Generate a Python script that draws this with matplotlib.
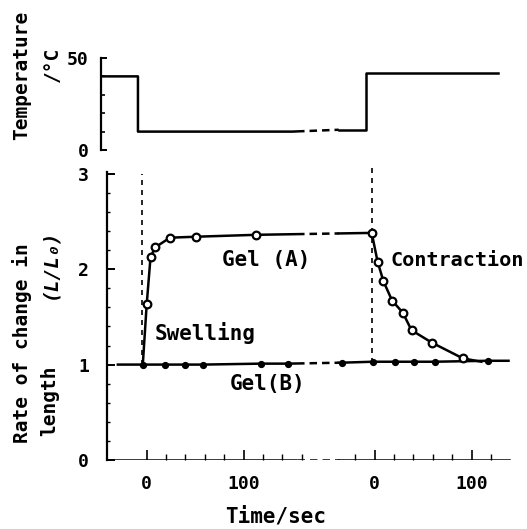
import numpy as np
import matplotlib
matplotlib.use("Agg")
import matplotlib.pyplot as plt

# ---------------- data ----------------
OFFSET = 235          # combined-axis position of t = 0 in the second (right) time window
BREAK = (155, 198)    # combined-axis interval shown as a dashed break

# temperature programme (left window times, right window times)
temp_t_left = [-47, -9, -9, 150]
temp_v_left = [40, 40, 10, 10]
temp_t_right = [-40, -9, -9, 127]
temp_v_right = [11, 11, 42, 42]

# Gel (A) open circles
gelA_t_left = [0, 4, 9, 24, 51, 113]
gelA_v_left = [1.63, 2.13, 2.23, 2.33, 2.34, 2.36]
gelA_start = (-4, 1.0)
gelA_t_right = [-3, 3, 9, 18, 29, 38, 59, 91]
gelA_v_right = [2.38, 2.08, 1.875, 1.67, 1.545, 1.36, 1.23, 1.065]
gelA_end = (110, 1.03)

# Gel (B) filled circles
gelB_t_left = [-4, 19, 39, 58, 118, 146]
gelB_v_left = [1.0, 1.0, 1.0, 1.0, 1.01, 1.01]
gelB_t_right = [-34, -2, 21, 41, 62, 117]
gelB_v_right = [1.02, 1.03, 1.03, 1.03, 1.03, 1.04]
gelB_line_start = -31
gelB_line_end_right = 138

xtick_major = [0, 100, OFFSET + 0, OFFSET + 100]
xtick_labels = ["0", "100", "0", "100"]

FONT = "DejaVu Sans Mono"
W, H = 527, 529
fig = plt.figure(figsize=(W / 100, H / 100), dpi=100)

XL = (-50, 380)
ax = fig.add_axes([0.1863, 0.1304, 0.7915, 0.552])
axt = fig.add_axes([0.1863, 0.7164, 0.7915, 0.181])
for a in (ax, axt):
    a.set_xlim(*XL)
    a.patch.set_alpha(0)
    for s in ("top", "right", "bottom"):
        a.spines[s].set_visible(False)

LW = 1.8
col = "black"


def broken_line(a, xs, ys, **kw):
    """draw line: solid outside BREAK, dashed inside it."""
    xs = np.asarray(xs, float)
    ys = np.asarray(ys, float)
    b0, b1 = BREAK
    y0 = np.interp(b0, xs, ys)
    y1 = np.interp(b1, xs, ys)
    m0 = xs < b0
    m1 = xs > b1
    a.plot(np.r_[xs[m0], b0], np.r_[ys[m0], y0], color=col, lw=LW, solid_capstyle="butt", **kw)
    a.plot([b0, b1], [y0, y1], color=col, lw=LW, ls=(0, (3, 2)), **kw)
    a.plot(np.r_[b1, xs[m1]], np.r_[y1, ys[m1]], color=col, lw=LW, **kw)


# ---------------- temperature panel ----------------
axt.set_ylim(0, 52)
tx = list(temp_t_left) + [OFFSET + t for t in temp_t_right]
tv = list(temp_v_left) + list(temp_v_right)
broken_line(axt, tx, tv)
axt.spines["left"].set_position(("data", -47))
axt.spines["left"].set_bounds(0, 50)
axt.spines["left"].set_linewidth(1.6)
axt.set_xticks([])
axt.set_yticks([0, 50])
axt.set_yticklabels(["0", "50"], fontfamily=FONT, fontweight="bold", fontsize=13)
axt.set_yticks([10, 20, 30, 40], minor=True)
axt.tick_params(axis="y", which="major", direction="in", length=4, width=1.4, pad=9)
axt.tick_params(axis="y", which="minor", direction="in", length=3, width=1.2)

# ---------------- main panel ----------------
ax.set_ylim(0, 3.06)
ax.spines["left"].set_position(("data", -41))
ax.spines["left"].set_bounds(0, 3.02)
ax.spines["left"].set_linewidth(1.6)
ax.set_yticks([0, 1, 2, 3])
ax.set_yticklabels(["0", "1", "2", "3"], fontfamily=FONT, fontweight="bold", fontsize=13)
ax.set_yticks(np.arange(0.2, 3.0, 0.2), minor=True)
ax.tick_params(axis="y", which="major", direction="in", length=6, width=1.4, pad=13)
ax.tick_params(axis="y", which="minor", direction="in", length=2.5, width=1.0)

# bottom axis with break
broken_line(ax, [-41, 374], [0, 0])
ax.set_xticks(xtick_major)
ax.set_xticklabels(xtick_labels, fontfamily=FONT, fontweight="bold", fontsize=13)
ax.set_xticks([20, 40, 60, 80, 120, 140, 160,
               OFFSET - 20, OFFSET + 20, OFFSET + 40, OFFSET + 60, OFFSET + 80, OFFSET + 120], minor=True)
ax.tick_params(axis="x", which="major", direction="in", length=7, width=1.2, pad=11)
ax.tick_params(axis="x", which="minor", direction="in", length=4, width=1.0)

# dashed vertical lines at temperature changes
ax.plot([-5, -5], [1.0, 3.0], color=col, lw=1.2, ls=(0, (3, 3)), clip_on=False)
ax.plot([OFFSET - 3, OFFSET - 3], [1.02, 3.1], color=col, lw=1.2, ls=(0, (3, 3)), clip_on=False)

# Gel (B)
bx = [gelB_line_start] + list(gelB_t_left) + [OFFSET + t for t in gelB_t_right] + [OFFSET + gelB_line_end_right]
bv = [gelB_v_left[0]] + list(gelB_v_left) + list(gelB_v_right) + [gelB_v_right[-1]]
broken_line(ax, bx, bv)
ax.plot(list(gelB_t_left) + [OFFSET + t for t in gelB_t_right],
        list(gelB_v_left) + list(gelB_v_right),
        ls="none", marker="o", ms=4.2, mfc=col, mec=col, clip_on=False)

# Gel (A)
ax_ = [gelA_start[0]] + list(gelA_t_left) + [OFFSET + t for t in gelA_t_right] + [OFFSET + gelA_end[0]]
av = [gelA_start[1]] + list(gelA_v_left) + list(gelA_v_right) + [gelA_end[1]]
broken_line(ax, ax_, av)
ax.plot(list(gelA_t_left) + [OFFSET + t for t in gelA_t_right],
        list(gelA_v_left) + list(gelA_v_right),
        ls="none", marker="o", ms=5.5, mfc="white", mec=col, mew=1.6, clip_on=False, zorder=5)

# annotations
tk = dict(fontfamily=FONT, fontweight="bold", fontsize=15)
ax.text(123, 2.1, "Gel (A)", ha="center", va="center", **tk)
ax.text(OFFSET + 16, 2.09, "Contraction", ha="left", va="center",
        fontfamily=FONT, fontweight="bold", fontsize=14.5)
ax.text(60, 1.33, "Swelling", ha="center", va="center", **tk)
ax.text(125, 0.80, "Gel(B)", ha="center", va="center", **tk)

# axis titles
fig.text(276 / W, 1 - 516 / H, "Time/sec", ha="center", va="center", **tk)
yk = dict(fontfamily=FONT, fontweight="bold", fontsize=14, rotation=90, va="center", ha="center")
fig.text(22 / W, 1 - 343 / H, "Rate of change in", **yk)
fig.text(50 / W, 1 - 401 / H, "length", **yk)
fig.text(50 / W, 1 - 264 / H, "(L/L₀)", style="italic", **yk)
fig.text(22 / W, 1 - 75 / H, "Temperature", **yk)
fig.text(52 / W, 1 - 64 / H, "/°C", **yk)

fig.savefig("out.png", dpi=100)
